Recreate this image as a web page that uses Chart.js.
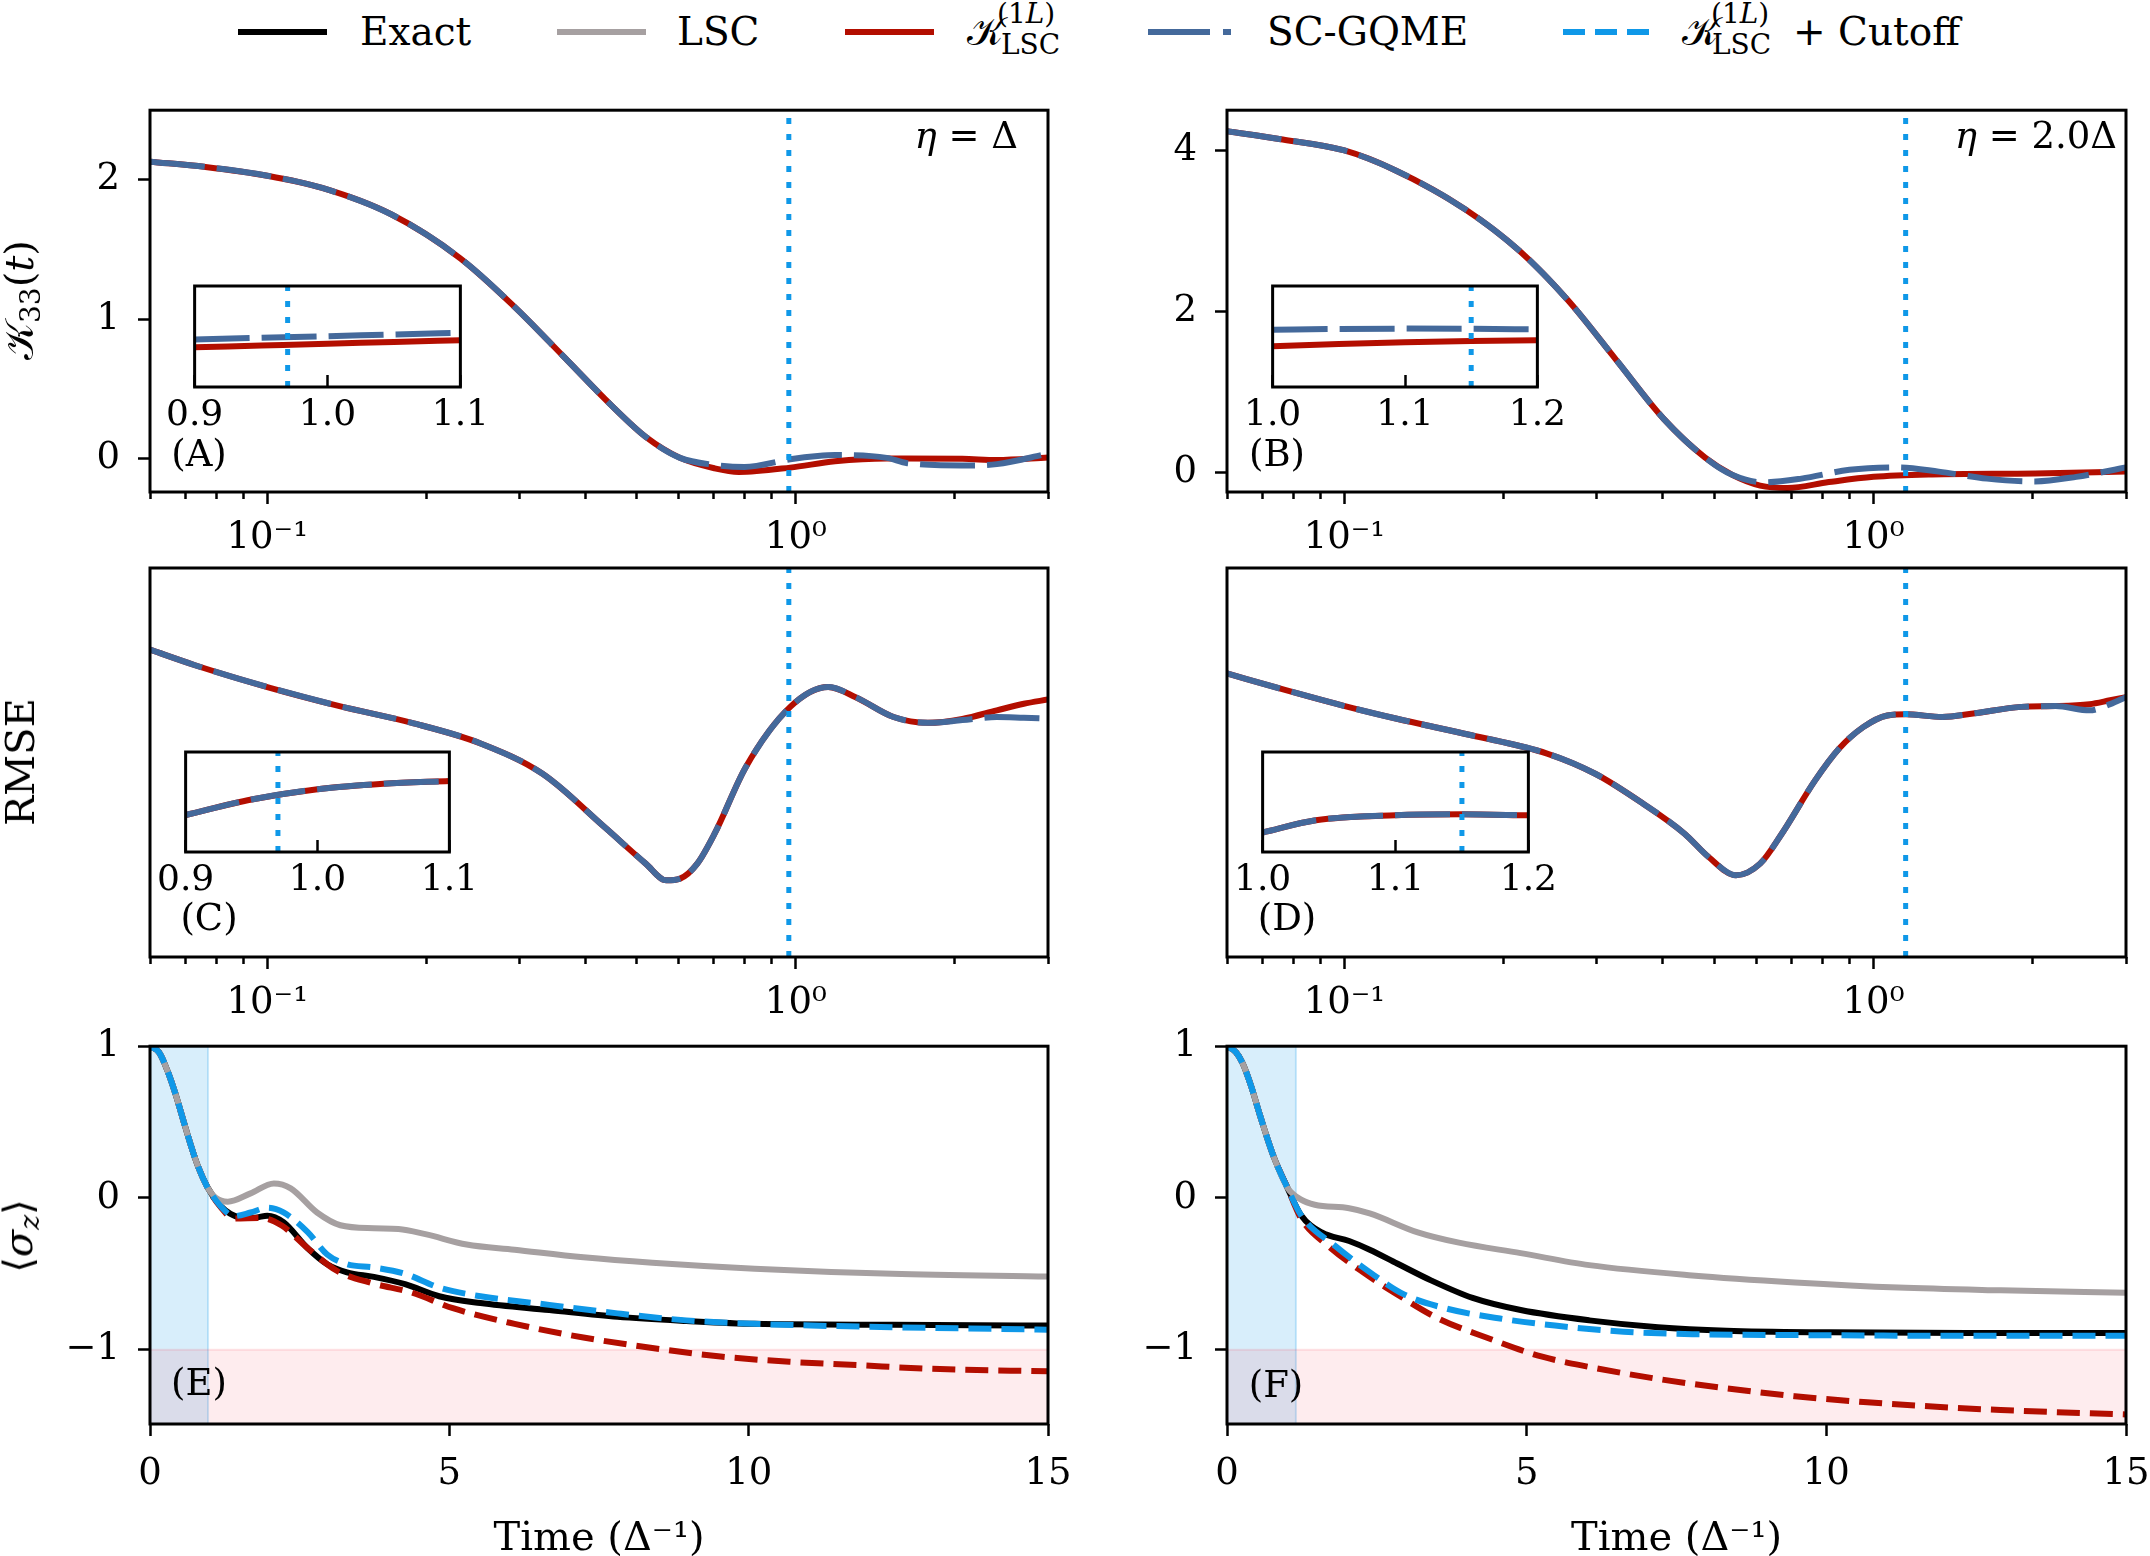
<!DOCTYPE html>
<html>
<head>
<meta charset="utf-8">
<title>Memory kernel, RMSE and population</title>
<script src="https://cdn.jsdelivr.net/npm/chart.js@4.4.1/dist/chart.umd.min.js"></script>
<style>
  html, body { margin: 0; padding: 0; background: #fff; }
  #fig { position: relative; width: 2150px; height: 1556px; overflow: hidden; font-family: 'DejaVu Serif', serif; color: #000; }
  #plots canvas { position: absolute; }
  .txt { position: absolute; white-space: nowrap; line-height: 1; }
  .c { transform: translate(-50%, -50%); }
  .r { transform: translate(-100%, -50%); }
  .rot { transform: translate(-50%, -50%) rotate(-90deg); font-size: 40px; }
  .leg { font-size: 39px; }
  .small { font-size: 28px; }
  .lab { font-size: 37px; }
  sub { font-size: 0.7em; vertical-align: -0.25em; }
</style>
</head>
<body>
<div id="fig">
  <div id="plots"></div>

  <!-- legend -->
  <svg class="txt" style="left:238px;top:25px" width="89" height="14"><line x1="0" y1="7" x2="89" y2="7" stroke="#000000" stroke-width="6"/></svg>
  <div class="txt leg" style="left:360px;top:12px">Exact</div>
  <svg class="txt" style="left:557px;top:25px" width="89" height="14"><line x1="0" y1="7" x2="89" y2="7" stroke="#a6a0a1" stroke-width="6"/></svg>
  <div class="txt leg" style="left:677px;top:12px">LSC</div>
  <svg class="txt" style="left:845px;top:25px" width="89" height="14"><line x1="0" y1="7" x2="89" y2="7" stroke="#b30e00" stroke-width="6"/></svg>
  <div class="txt leg" style="left:967px;top:12px">𝒦</div>
  <div class="txt small" style="left:997px;top:0px">(1<i>L</i>)</div>
  <div class="txt small" style="left:1001px;top:31px">LSC</div>
  <svg class="txt" style="left:1148px;top:25px" width="89" height="14"><line x1="0" y1="7" x2="89" y2="7" stroke="#44699b" stroke-width="6" stroke-dasharray="62 13 8 20"/></svg>
  <div class="txt leg" style="left:1267px;top:12px">SC-GQME</div>
  <svg class="txt" style="left:1563px;top:25px" width="89" height="14"><line x1="0" y1="7" x2="89" y2="7" stroke="#0f98e8" stroke-width="6" stroke-dasharray="22 10"/></svg>
  <div class="txt leg" style="left:1682px;top:12px">𝒦</div>
  <div class="txt small" style="left:1711px;top:0px">(1<i>L</i>)</div>
  <div class="txt small" style="left:1712px;top:31px">LSC</div>
  <div class="txt leg" style="left:1793px;top:12px">+ Cutoff</div>

  <!-- axis labels -->
  <div class="txt rot" style="left:22px;top:300px">𝒦<sub>33</sub>(<i>t</i>)</div>
  <div class="txt rot" style="left:20px;top:762px">RMSE</div>
  <div class="txt rot" style="left:21px;top:1236px">⟨<i>σ</i><sub><i>z</i></sub>⟩</div>

  <!-- panel tags and annotations -->
  <div class="txt lab c" style="left:199px;top:453px">(A)</div>
  <div class="txt lab c" style="left:1277px;top:453px">(B)</div>
  <div class="txt lab c" style="left:209px;top:917px">(C)</div>
  <div class="txt lab c" style="left:1287px;top:917px">(D)</div>
  <div class="txt lab c" style="left:199px;top:1382px">(E)</div>
  <div class="txt lab c" style="left:1276px;top:1384px">(F)</div>
  <div class="txt lab r" style="left:1018px;top:135px"><i>η</i> = Δ</div>
  <div class="txt lab r" style="left:2117px;top:135px"><i>η</i> = 2.0Δ</div>
</div>

<script>
// ---------------- data ----------------
// (A) kernel K33(t), eta = Delta
const tKlscA = [0.06, 0.0764, 0.1, 0.127, 0.1715, 0.2315, 0.294, 0.363, 0.4477, 0.52, 0.604, 0.702, 0.78, 0.976, 1.186, 1.486, 2.066, 2.4, 3.0];
const klscA  = [2.131, 2.093, 2.03, 1.942, 1.753, 1.439, 1.087, 0.735, 0.382, 0.156, 0.005, -0.07, -0.096, -0.065, -0.02, 0.0, -0.002, -0.01, 0.008];
const tGqmeA = [0.06, 0.0764, 0.1, 0.127, 0.1715, 0.2315, 0.294, 0.363, 0.4477, 0.52, 0.604, 0.70, 0.80, 0.976, 1.10, 1.186, 1.486, 1.625, 2.13, 2.4, 3.0];
const gqmeA  = [2.131, 2.093, 2.03, 1.942, 1.753, 1.439, 1.087, 0.735, 0.382, 0.156, 0.005, -0.045, -0.06, -0.005, 0.018, 0.025, 0.005, -0.033, -0.05, -0.04, 0.035];

// (B) kernel K33(t), eta = 2.0 Delta
const tKlscB = [0.06, 0.0753, 0.1, 0.125, 0.1688, 0.2144, 0.2643, 0.326, 0.4017, 0.4806, 0.5418, 0.6105, 0.688, 0.823, 1.0, 1.29, 2.02, 3.0];
const klscB  = [4.239, 4.143, 4.0, 3.752, 3.274, 2.752, 2.143, 1.404, 0.665, 0.187, -0.03, -0.16, -0.19, -0.117, -0.052, -0.022, -0.01, 0.013];
const tGqmeB = [0.06, 0.0753, 0.1, 0.125, 0.1688, 0.2144, 0.2643, 0.326, 0.4017, 0.4806, 0.5418, 0.62, 0.7305, 0.9005, 1.11, 1.328, 1.638, 2.02, 2.416, 3.0];
const gqmeB  = [4.239, 4.143, 4.0, 3.752, 3.274, 2.752, 2.143, 1.404, 0.665, 0.187, -0.03, -0.12, -0.074, 0.035, 0.065, 0.013, -0.074, -0.109, -0.052, 0.065];

// (C) RMSE, relative units (no ticks on the axis)
const tRmseC    = [0.06, 0.073, 0.1, 0.137, 0.1877, 0.2533, 0.3318, 0.4345, 0.52, 0.569, 0.604, 0.651, 0.702, 0.804, 0.976, 1.151, 1.298, 1.531, 1.778, 2.066, 2.4, 2.7, 3.0];
const klscRmseC = [0.79, 0.75, 0.694, 0.645, 0.602, 0.549, 0.471, 0.334, 0.24, 0.197, 0.2015, 0.24, 0.317, 0.488, 0.643, 0.694, 0.668, 0.617, 0.602, 0.612, 0.634, 0.651, 0.662];
const gqmeRmseC = [0.79, 0.75, 0.694, 0.645, 0.602, 0.549, 0.471, 0.334, 0.24, 0.197, 0.2015, 0.24, 0.317, 0.488, 0.643, 0.694, 0.668, 0.617, 0.602, 0.609, 0.617, 0.615, 0.613];

// (D) RMSE, relative units
const tRmseD    = [0.06, 0.0775, 0.1015, 0.1251, 0.1739, 0.2416, 0.2979, 0.367, 0.4394, 0.4879, 0.5497, 0.6105, 0.668, 0.7755, 0.861, 0.956, 1.062, 1.151, 1.349, 1.543, 1.902, 2.209, 2.56, 2.8, 3.0];
const klscRmseD = [0.729, 0.686, 0.643, 0.613, 0.57, 0.523, 0.471, 0.394, 0.317, 0.257, 0.21, 0.24, 0.313, 0.454, 0.536, 0.591, 0.621, 0.624, 0.617, 0.626, 0.643, 0.645, 0.65, 0.66, 0.668];
const gqmeRmseD = [0.729, 0.686, 0.643, 0.613, 0.57, 0.523, 0.471, 0.394, 0.317, 0.257, 0.21, 0.24, 0.313, 0.454, 0.536, 0.591, 0.621, 0.624, 0.617, 0.626, 0.643, 0.645, 0.634, 0.65, 0.668];

// insets (zoom around the cutoff time, relative units)
const tInsetAC   = [0.9, 0.95, 1.0, 1.05, 1.1];
const tInsetB    = [1.0, 1.05, 1.1, 1.15, 1.2];
const tInsetD    = [1.0, 1.04, 1.1, 1.15, 1.2];
const klscInsetA = [0.393, 0.411, 0.429, 0.446, 0.464];
const gqmeInsetA = [0.471, 0.487, 0.503, 0.52, 0.536];
const klscInsetB = [0.404, 0.425, 0.442, 0.455, 0.464];
const gqmeInsetB = [0.568, 0.575, 0.578, 0.576, 0.57];
const rmseInsetC = [0.37, 0.525, 0.628, 0.683, 0.71];
const rmseInsetD = [0.195, 0.317, 0.368, 0.377, 0.367];

// (E) population <sigma_z>, eta = Delta
const tExactE = [0, 0.15, 0.29, 0.43, 0.565, 0.68, 0.79, 0.955, 1.18, 1.345, 1.51, 1.75, 1.96, 2.23, 2.63, 2.96, 3.29, 3.74, 4.26, 4.83, 5.52, 6.67, 7.81, 8.96, 10.1, 12.4, 15];
const exactE  = [1, 0.96, 0.84, 0.68, 0.5, 0.35, 0.22, 0.074, -0.054, -0.105, -0.128, -0.13, -0.117, -0.16, -0.33, -0.437, -0.49, -0.52, -0.568, -0.648, -0.693, -0.739, -0.784, -0.811, -0.83, -0.836, -0.841];
const tLscE   = [0, 0.15, 0.29, 0.43, 0.565, 0.68, 0.79, 0.955, 1.1, 1.3, 1.68, 2.07, 2.35, 2.79, 3.18, 3.74, 4.15, 4.6, 5.29, 6.09, 7.24, 8.39, 10.1, 12.4, 15];
const lscE    = [1, 0.96, 0.84, 0.68, 0.5, 0.35, 0.22, 0.074, 0.0, -0.025, 0.03, 0.095, 0.063, -0.096, -0.18, -0.2, -0.205, -0.239, -0.307, -0.341, -0.391, -0.427, -0.466, -0.5, -0.518];
const tKlscE  = [0, 0.15, 0.29, 0.43, 0.565, 0.68, 0.79, 0.955, 1.18, 1.4, 1.86, 2.2, 2.66, 3.12, 3.69, 4.38, 5.06, 6.09, 7.24, 8.39, 9.53, 10.68, 11.82, 12.97, 15];
const klscE   = [1, 0.96, 0.84, 0.68, 0.5, 0.35, 0.22, 0.074, -0.06, -0.136, -0.132, -0.182, -0.34, -0.48, -0.56, -0.625, -0.727, -0.83, -0.92, -0.989, -1.045, -1.08, -1.102, -1.125, -1.143];
const tCutE   = [0, 0.15, 0.29, 0.43, 0.565, 0.68, 0.79, 0.955, 1.18, 1.4, 1.68, 1.96, 2.23, 2.63, 2.96, 3.29, 3.74, 4.26, 4.83, 5.52, 6.67, 7.81, 8.96, 10.1, 12.39, 15];
const cutE    = [1, 0.96, 0.84, 0.68, 0.5, 0.35, 0.22, 0.074, -0.055, -0.12, -0.096, -0.065, -0.096, -0.224, -0.373, -0.437, -0.458, -0.5, -0.591, -0.648, -0.705, -0.761, -0.807, -0.83, -0.852, -0.868];

// (F) population <sigma_z>, eta = 2.0 Delta
const tExactF = [0, 0.15, 0.263, 0.4, 0.55, 0.778, 1.007, 1.236, 1.58, 2.038, 2.381, 2.839, 3.412, 4.098, 4.9, 6.045, 7.19, 8.334, 10.05, 12.34, 15];
const exactF  = [1, 0.96, 0.886, 0.74, 0.545, 0.273, 0.068, -0.114, -0.227, -0.284, -0.341, -0.432, -0.545, -0.659, -0.739, -0.807, -0.852, -0.875, -0.886, -0.891, -0.891];
const tLscF   = [0, 0.15, 0.263, 0.4, 0.55, 0.778, 1.007, 1.236, 1.465, 2.038, 2.381, 3.183, 3.87, 4.9, 6.045, 7.762, 9.479, 11.2, 12.91, 15];
const lscF    = [1, 0.96, 0.886, 0.74, 0.545, 0.273, 0.068, -0.011, -0.045, -0.068, -0.102, -0.227, -0.295, -0.364, -0.443, -0.511, -0.557, -0.591, -0.609, -0.625];
const tKlscF  = [0, 0.15, 0.263, 0.4, 0.55, 0.778, 1.007, 1.236, 1.694, 2.267, 2.839, 3.526, 4.327, 5.243, 6.045, 7.19, 8.334, 9.479, 10.62, 11.77, 12.91, 15];
const klscF   = [1, 0.96, 0.886, 0.74, 0.545, 0.273, 0.068, -0.136, -0.318, -0.489, -0.636, -0.795, -0.92, -1.045, -1.114, -1.193, -1.255, -1.307, -1.345, -1.375, -1.398, -1.427];
const tCutF   = [0, 0.15, 0.263, 0.4, 0.55, 0.778, 1.007, 1.236, 1.809, 2.381, 2.953, 3.64, 4.556, 5.472, 6.617, 7.762, 10.05, 12.34, 15];
const cutF    = [1, 0.96, 0.886, 0.74, 0.545, 0.273, 0.068, -0.114, -0.318, -0.489, -0.636, -0.727, -0.795, -0.841, -0.882, -0.898, -0.905, -0.909, -0.909];

// cutoff times and axis limits / ticks
const cutoffA = 0.97, cutoffB = 1.15;
const logTicks = [0.06, 0.07, 0.08, 0.09, 0.1, 0.2, 0.3, 0.4, 0.5, 0.6, 0.7, 0.8, 0.9, 1, 2, 3];
const kernelLimA = [-0.24, 2.5], kernelTicksA = [0, 1, 2];
const kernelLimB = [-0.24, 4.5], kernelTicksB = [0, 2, 4];
const rmseLim = [0, 1];
const popLim = [-1.49, 1], popTicks = [-1, 0, 1];
const timeTicks = [0, 5, 10, 15];
const insetTicksAC = [0.9, 1.0, 1.1], insetTicksBD = [1.0, 1.1, 1.2];
const unphysicalLevel = -1;

// ---------------- styling ----------------
const RED = '#b30e00', STEEL = '#44699b', CYAN = '#0f98e8', GREY = '#a6a0a1', BLACK = '#000000';
const LW = 6;
const FONT = "'DejaVu Serif', serif";
Chart.defaults.font.family = FONT;
Chart.defaults.color = '#000';

// box around each axes (matplotlib-like spines), optional white background for insets
const framePlugin = {
  id: 'frame',
  beforeDraw(chart, args, opts) {
    if (!opts.fill) return;
    const { ctx, chartArea: a } = chart;
    ctx.save();
    ctx.fillStyle = '#fff';
    ctx.fillRect(a.left, a.top, a.right - a.left, a.bottom - a.top);
    ctx.restore();
  },
  afterDraw(chart, args, opts) {
    const { ctx, chartArea: a } = chart;
    ctx.save();
    ctx.strokeStyle = '#000';
    ctx.lineWidth = opts.width || 3;
    ctx.strokeRect(a.left, a.top, a.right - a.left, a.bottom - a.top);
    ctx.restore();
  }
};

const plots = document.getElementById('plots');
function makeCanvas(left, top, width, height) {
  const cv = document.createElement('canvas');
  cv.width = width;
  cv.height = height;
  cv.style.left = left + 'px';
  cv.style.top = top + 'px';
  cv.style.width = width + 'px';
  cv.style.height = height + 'px';
  plots.appendChild(cv);
  return cv;
}

function pts(xs, ys) {
  return xs.map((x, i) => ({ x: x, y: ys[i] }));
}

function curve(xs, ys, color, dash, order) {
  return {
    data: pts(xs, ys), borderColor: color, borderWidth: LW, borderDash: dash,
    borderCapStyle: 'butt', pointRadius: 0, fill: false,
    cubicInterpolationMode: 'monotone', clip: 0, order: order
  };
}

function cutoffLine(x, lim, order) {
  return {
    data: [{ x: x, y: lim[0] }, { x: x, y: lim[1] }], borderColor: CYAN, borderWidth: 5,
    borderDash: [6, 10], borderCapStyle: 'butt', pointRadius: 0, fill: false, tension: 0, clip: 0, order: order
  };
}

function band(points, fillColor, edgeColor, order) {
  return {
    data: points, borderColor: edgeColor, borderWidth: 2, backgroundColor: fillColor,
    fill: 'start', pointRadius: 0, tension: 0, clip: 0, order: order
  };
}

const isDecade = v => Math.abs(Math.log10(v) - Math.round(Math.log10(v))) < 1e-9;
const supDigits = { '-': '⁻', '0': '⁰', '1': '¹', '2': '²', '3': '³' };
const toSup = n => String(n).split('').map(ch => supDigits[ch]).join('');
const numLabel = v => (v < 0 ? '−' + Math.abs(v) : String(v));

function logAxis() {
  return {
    type: 'logarithmic', min: logTicks[0], max: logTicks[logTicks.length - 1],
    afterBuildTicks: s => { s.ticks = logTicks.map(v => ({ value: v, major: isDecade(v) })); },
    border: { display: false },
    grid: {
      drawOnChartArea: false, drawTicks: true, tickLength: 12, tickColor: '#000', tickWidth: 2.5,
      tickBorderDash: c => (c.tick && isDecade(c.tick.value)) ? [] : [7, 40]
    },
    ticks: {
      autoSkip: false, maxRotation: 0, padding: 12, font: { size: 37 },
      callback: v => isDecade(v) ? '10' + toSup(Math.round(Math.log10(v))) : ''
    }
  };
}

function linAxis(lim, tickVals, pad, extra) {
  const ax = {
    type: 'linear', min: lim[0], max: lim[1],
    afterBuildTicks: s => { s.ticks = tickVals.map(v => ({ value: v })); },
    border: { display: false },
    grid: { drawOnChartArea: false, drawTicks: true, tickLength: 12, tickColor: '#000', tickWidth: 2.5 },
    ticks: { autoSkip: false, maxRotation: 0, padding: pad, font: { size: 37 }, callback: numLabel }
  };
  return Object.assign(ax, extra || {});
}

function blankAxis(lim) {
  return {
    type: 'linear', min: lim[0], max: lim[1],
    border: { display: false },
    grid: { drawOnChartArea: false, drawTicks: false },
    ticks: { display: false }
  };
}

function panel(box, xScale, yScale, datasets, padB) {
  const padL = 150, padT = 30, padR = 45;
  const cv = makeCanvas(box.l - padL, box.t - padT, box.r - box.l + padL + padR, box.b - box.t + padT + padB);
  xScale.afterFit = s => { s.height = padB; };
  yScale.afterFit = s => { s.width = padL; };
  return new Chart(cv, {
    type: 'line',
    data: { datasets: datasets },
    options: {
      responsive: false, animation: false, events: [],
      layout: { padding: { left: 0, right: padR, top: padT, bottom: 0 } },
      scales: { x: xScale, y: yScale },
      plugins: { legend: { display: false }, tooltip: { enabled: false }, frame: { width: 3 } }
    },
    plugins: [framePlugin]
  });
}

function inset(box, tickVals, datasets) {
  const padL = 45, padR = 45, padT = 6, padB = 56;
  const cv = makeCanvas(box.l - padL, box.t - padT, box.r - box.l + padL + padR, box.b - box.t + padT + padB);
  return new Chart(cv, {
    type: 'line',
    data: { datasets: datasets },
    options: {
      responsive: false, animation: false, events: [],
      layout: { padding: { left: padL, right: padR, top: padT, bottom: 0 } },
      scales: {
        x: {
          type: 'linear', min: tickVals[0], max: tickVals[tickVals.length - 1],
          afterBuildTicks: s => { s.ticks = tickVals.map(v => ({ value: v })); },
          afterFit: s => { s.height = padB; },
          border: { display: false },
          grid: { drawOnChartArea: false, drawTicks: true, tickLength: -12, tickColor: '#000', tickWidth: 2.5 },
          ticks: { autoSkip: false, maxRotation: 0, padding: 19, font: { size: 36 }, callback: v => v.toFixed(1) }
        },
        y: { display: false, min: rmseLim[0], max: rmseLim[1] }
      },
      plugins: { legend: { display: false }, tooltip: { enabled: false }, frame: { width: 3, fill: true } }
    },
    plugins: [framePlugin]
  });
}

// ---------------- layout (plot areas in page pixels) ----------------
const boxA = { l: 150, t: 100, r: 1048, b: 492 };
const boxB = { l: 1227, t: 100, r: 2126, b: 492 };
const boxC = { l: 150, t: 568, r: 1048, b: 957 };
const boxD = { l: 1227, t: 568, r: 2126, b: 957 };
const boxE = { l: 150, t: 1036, r: 1048, b: 1424 };
const boxF = { l: 1227, t: 1036, r: 2126, b: 1424 };

// row 1: kernels
panel(boxA, logAxis(), linAxis(kernelLimA, kernelTicksA, 18), [
  cutoffLine(cutoffA, kernelLimA, -1),
  curve(tGqmeA, gqmeA, STEEL, [55, 12], 0),
  curve(tKlscA, klscA, RED, [], 1)
], 70);
panel(boxB, logAxis(), linAxis(kernelLimB, kernelTicksB, 18), [
  cutoffLine(cutoffB, kernelLimB, -1),
  curve(tGqmeB, gqmeB, STEEL, [55, 12], 0),
  curve(tKlscB, klscB, RED, [], 1)
], 70);

// row 2: RMSE
panel(boxC, logAxis(), blankAxis(rmseLim), [
  cutoffLine(cutoffA, rmseLim, -1),
  curve(tRmseC, gqmeRmseC, STEEL, [55, 12], 0),
  curve(tRmseC, klscRmseC, RED, [], 1)
], 70);
panel(boxD, logAxis(), blankAxis(rmseLim), [
  cutoffLine(cutoffB, rmseLim, -1),
  curve(tRmseD, gqmeRmseD, STEEL, [55, 12], 0),
  curve(tRmseD, klscRmseD, RED, [], 1)
], 70);

// row 3: populations
function popPanel(box, cutoff, ex, ey, lx, ly, kx, ky, cx, cy) {
  const tMax = timeTicks[timeTicks.length - 1];
  const xAx = linAxis([timeTicks[0], tMax], timeTicks, 16, {
    title: { display: true, text: 'Time (Δ⁻¹)', font: { size: 40 }, padding: { top: 0, bottom: 0 } }
  });
  return panel(box, xAx, linAxis(popLim, popTicks, 18), [
    curve(cx, cy, CYAN, [23, 10], 0),
    curve(lx, ly, GREY, [], 1),
    curve(kx, ky, RED, [23, 10], 2),
    curve(ex, ey, BLACK, [], 3),
    band([{ x: timeTicks[0], y: unphysicalLevel }, { x: tMax, y: unphysicalLevel }],
         'rgba(245,30,60,0.085)', 'rgba(245,30,60,0.12)', 4),
    band([{ x: timeTicks[0], y: popLim[1] }, { x: cutoff, y: popLim[1] }, { x: cutoff, y: popLim[0] }],
         'rgba(15,152,232,0.16)', 'rgba(15,152,232,0.22)', 5)
  ], 140);
}
popPanel(boxE, cutoffA, tExactE, exactE, tLscE, lscE, tKlscE, klscE, tCutE, cutE);
popPanel(boxF, cutoffB, tExactF, exactF, tLscF, lscF, tKlscF, klscF, tCutF, cutF);

// insets
inset({ l: 192, t: 286, r: 463, b: 387 }, insetTicksAC, [
  cutoffLine(cutoffA, rmseLim, -1),
  curve(tInsetAC, gqmeInsetA, STEEL, [55, 12], 0),
  curve(tInsetAC, klscInsetA, RED, [], 1)
]);
inset({ l: 1270, t: 286, r: 1540, b: 387 }, insetTicksBD, [
  cutoffLine(cutoffB, rmseLim, -1),
  curve(tInsetB, gqmeInsetB, STEEL, [55, 12], 0),
  curve(tInsetB, klscInsetB, RED, [], 1)
]);
inset({ l: 183, t: 752, r: 452, b: 852 }, insetTicksAC, [
  cutoffLine(cutoffA, rmseLim, -1),
  curve(tInsetAC, rmseInsetC, STEEL, [55, 12], 0),
  curve(tInsetAC, rmseInsetC, RED, [], 1)
]);
inset({ l: 1260, t: 752, r: 1531, b: 852 }, insetTicksBD, [
  cutoffLine(cutoffB, rmseLim, -1),
  curve(tInsetD, rmseInsetD, STEEL, [55, 12], 0),
  curve(tInsetD, rmseInsetD, RED, [], 1)
]);
</script>
</body>
</html>
